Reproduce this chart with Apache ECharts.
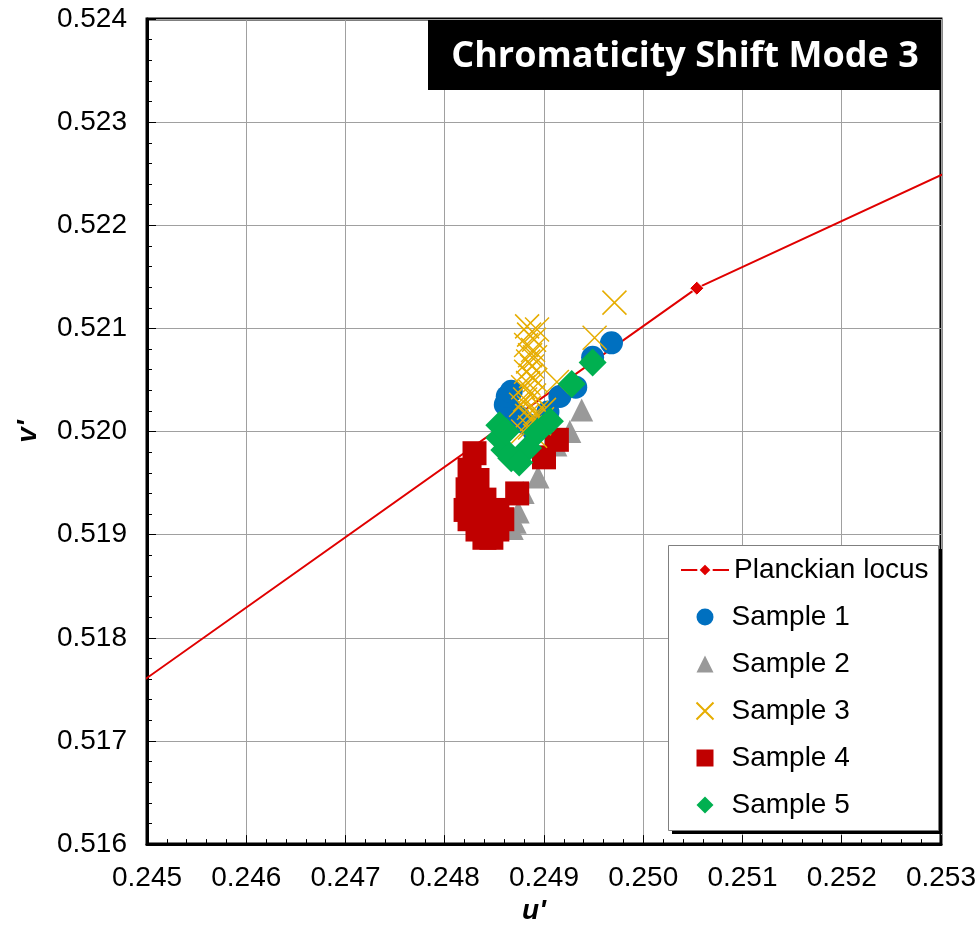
<!DOCTYPE html>
<html>
<head>
<meta charset="utf-8">
<style>
  html, body { margin: 0; padding: 0; background: #fff; }
  #chart { width: 979px; height: 930px; }
</style>
<script src="https://cdn.jsdelivr.net/npm/echarts@6/dist/echarts.min.js"></script>
</head>
<body>
<div id="chart"></div>
<script>
// Axis ranges and tick labels
const uTicks = ['0.245', '0.246', '0.247', '0.248', '0.249', '0.250', '0.251', '0.252', '0.253'];
const vTicks = ['0.516', '0.517', '0.518', '0.519', '0.520', '0.521', '0.522', '0.523', '0.524'];

// Planckian locus (u', v')
const locus = [[0.2445, 0.51727], [0.25054, 0.52139], [0.2535, 0.52271]];

// Measured chromaticity points (u', v')
const sample1 = [
  [0.24968, 0.52086], [0.24949, 0.52072], [0.24932, 0.52043], [0.24916, 0.52034],
  [0.24904, 0.52019], [0.24895, 0.52004], [0.24890, 0.52000], [0.24883, 0.52007],
  [0.24875, 0.52014], [0.24867, 0.52021], [0.24861, 0.52026], [0.24863, 0.52034],
  [0.24867, 0.52039]
];
const sample2 = [
  [0.24938, 0.52021], [0.24926, 0.52000], [0.24912, 0.51987], [0.24894, 0.51956],
  [0.24879, 0.51941], [0.24874, 0.51922], [0.24871, 0.51912], [0.24868, 0.51906]
];
const sample3 = [
  [0.24971, 0.52125], [0.24951, 0.52091], [0.24913, 0.52048], [0.24900, 0.52021],
  [0.24883, 0.52102], [0.24893, 0.52099], [0.24885, 0.52094], [0.24890, 0.52089],
  [0.24882, 0.52084], [0.24889, 0.52079], [0.24886, 0.52074], [0.24891, 0.52072],
  [0.24884, 0.52068], [0.24888, 0.52063], [0.24882, 0.52058], [0.24887, 0.52054],
  [0.24891, 0.52050], [0.24884, 0.52047], [0.24879, 0.52043], [0.24886, 0.52039],
  [0.24890, 0.52035], [0.24881, 0.52031], [0.24877, 0.52026], [0.24885, 0.52023],
  [0.24892, 0.52018], [0.24883, 0.52015], [0.24888, 0.52012], [0.24895, 0.52008],
  [0.24886, 0.52004], [0.24879, 0.52000], [0.24891, 0.51996], [0.24898, 0.52012]
];
const sample4 = [
  [0.24913, 0.51992], [0.24900, 0.51975], [0.24873, 0.51940], [0.24830, 0.51979],
  [0.24825, 0.51963], [0.24823, 0.51944], [0.24821, 0.51924], [0.24825, 0.51915],
  [0.24833, 0.51905], [0.24840, 0.51897], [0.24847, 0.51897], [0.24853, 0.51905],
  [0.24858, 0.51915], [0.24853, 0.51924], [0.24840, 0.51934], [0.24833, 0.51953],
  [0.24845, 0.51919]
];
const sample5 = [
  [0.24949, 0.52067], [0.24928, 0.52046], [0.24906, 0.52010], [0.24893, 0.51999],
  [0.24884, 0.51984], [0.24875, 0.51970], [0.24867, 0.51974], [0.24860, 0.51982],
  [0.24855, 0.51994], [0.24855, 0.52006], [0.24862, 0.52000]
];

const FONT = '"Liberation Sans", Arial, sans-serif';
const chart = echarts.init(document.getElementById('chart'), null, { renderer: 'canvas' });

const crossPath = 'path://M0,0L10,10M10,0L0,10';

// legend panel box (drawn as graphics so the drop shadow is a solid offset block)
const legendBox = { x: 668, y: 545, w: 270, h: 285 };
// title banner
const titleBox = { x: 428, y: 20, w: 512, h: 70 };

const legendText = { fontFamily: FONT, fontSize: 28, color: '#000', lineHeight: 28 };
const rowTop = legendBox.y + 11;   // top of first legend row
const rowStep = 47;                // row pitch

chart.setOption({
  animation: false,
  backgroundColor: '#fff',
  grid: {
    left: 147, right: 37, top: 19, bottom: 85,
    show: true, borderColor: '#000', borderWidth: 3, backgroundColor: '#fff'
  },
  xAxis: {
    type: 'value', min: 0.245, max: 0.253, interval: 0.001,
    name: "u'", nameLocation: 'middle', nameGap: 52,
    nameTextStyle: { fontFamily: FONT, fontSize: 28, fontWeight: 'bold', fontStyle: 'italic', color: '#000', padding: [0, 20, 0, 0] },
    axisLine: { show: true, lineStyle: { color: '#000', width: 3 } },
    axisTick: { show: true, inside: true, length: 9, lineStyle: { color: '#000', width: 1 } },
    minorTick: { show: true, splitNumber: 5, length: 5, lineStyle: { color: '#000', width: 1 } },
    splitLine: { show: true, lineStyle: { color: '#a0a0a0', width: 1 } },
    axisLabel: {
      fontFamily: FONT, fontSize: 28, color: '#000', margin: 20,
      formatter: v => uTicks[Math.round((v - 0.245) / 0.001)]
    }
  },
  yAxis: {
    type: 'value', min: 0.516, max: 0.524, interval: 0.001,
    name: "v'", nameLocation: 'middle', nameGap: 105, nameRotate: 90,
    nameTextStyle: { fontFamily: FONT, fontSize: 28, fontWeight: 'bold', fontStyle: 'italic', color: '#000' },
    axisLine: { show: true, lineStyle: { color: '#000', width: 3 } },
    axisTick: { show: true, inside: true, length: 9, lineStyle: { color: '#000', width: 1 } },
    minorTick: { show: true, splitNumber: 5, length: 5, lineStyle: { color: '#000', width: 1 } },
    splitLine: { show: true, lineStyle: { color: '#a0a0a0', width: 1 } },
    axisLabel: {
      fontFamily: FONT, fontSize: 28, color: '#000', margin: 20,
      formatter: v => vTicks[Math.round((v - 0.516) / 0.001)]
    }
  },
  legend: [
    {
      orient: 'vertical', left: 680, top: rowTop, padding: 0,
      itemWidth: 48, itemHeight: 17,
      textStyle: legendText,
      data: ['Planckian locus'], z: 20
    },
    {
      orient: 'vertical', left: 694, top: rowTop + rowStep, padding: 0,
      itemWidth: 17, itemHeight: 17, itemGap: rowStep - 28,
      textStyle: Object.assign({ padding: [0, 0, 0, 13] }, legendText),
      data: ['Sample 1', 'Sample 2', 'Sample 3', 'Sample 4', 'Sample 5'], z: 20
    }
  ],
  graphic: [
    {
      type: 'rect', z: 15, silent: true,
      shape: { x: legendBox.x + 4, y: legendBox.y + 4, width: legendBox.w, height: legendBox.h },
      style: { fill: '#000' }
    },
    {
      type: 'rect', z: 16, silent: true,
      shape: { x: legendBox.x + 0.5, y: legendBox.y + 0.5, width: legendBox.w, height: legendBox.h },
      style: { fill: '#fff', stroke: '#7f7f7f', lineWidth: 1 }
    },
    {
      type: 'rect', z: 100, silent: true,
      shape: { x: titleBox.x, y: titleBox.y, width: titleBox.w, height: titleBox.h },
      style: { fill: '#000' }
    },
    {
      type: 'text', z: 101, silent: true,
      x: titleBox.x + titleBox.w / 2 + 1, y: titleBox.y + titleBox.h / 2 + 2,
      style: {
        text: 'Chromaticity Shift Mode 3', fill: '#fff',
        fontSize: 36, fontWeight: 'bold', fontFamily: '"Open Sans", Lato, sans-serif',
        align: 'center', verticalAlign: 'middle'
      }
    }
  ],
  series: [
    {
      name: 'Planckian locus', type: 'line', data: locus, clip: true,
      symbol: 'diamond', symbolSize: 14, showSymbol: true,
      lineStyle: { color: '#e00000', width: 2 },
      itemStyle: { color: '#e00000', borderColor: '#fff', borderWidth: 1 }, z: 3
    },
    {
      name: 'Sample 1', type: 'scatter', data: sample1,
      symbol: 'circle', symbolSize: 23,
      itemStyle: { color: '#0070c0', opacity: 1 }, z: 4
    },
    {
      name: 'Sample 2', type: 'scatter', data: sample2,
      symbol: 'triangle', symbolSize: 23,
      itemStyle: { color: '#999999', opacity: 1 }, z: 2
    },
    {
      name: 'Sample 3', type: 'scatter', data: sample3,
      symbol: crossPath, symbolSize: 24,
      itemStyle: { color: 'none', borderColor: '#e6ad00', borderWidth: 1.5, opacity: 1 }, z: 5
    },
    {
      name: 'Sample 4', type: 'scatter', data: sample4,
      symbol: 'rect', symbolSize: 24,
      itemStyle: { color: '#c00000', opacity: 1 }, z: 4
    },
    {
      name: 'Sample 5', type: 'scatter', data: sample5,
      symbol: 'diamond', symbolSize: 28,
      itemStyle: { color: '#00b050', opacity: 1 }, z: 6
    }
  ]
});
</script>
</body>
</html>
